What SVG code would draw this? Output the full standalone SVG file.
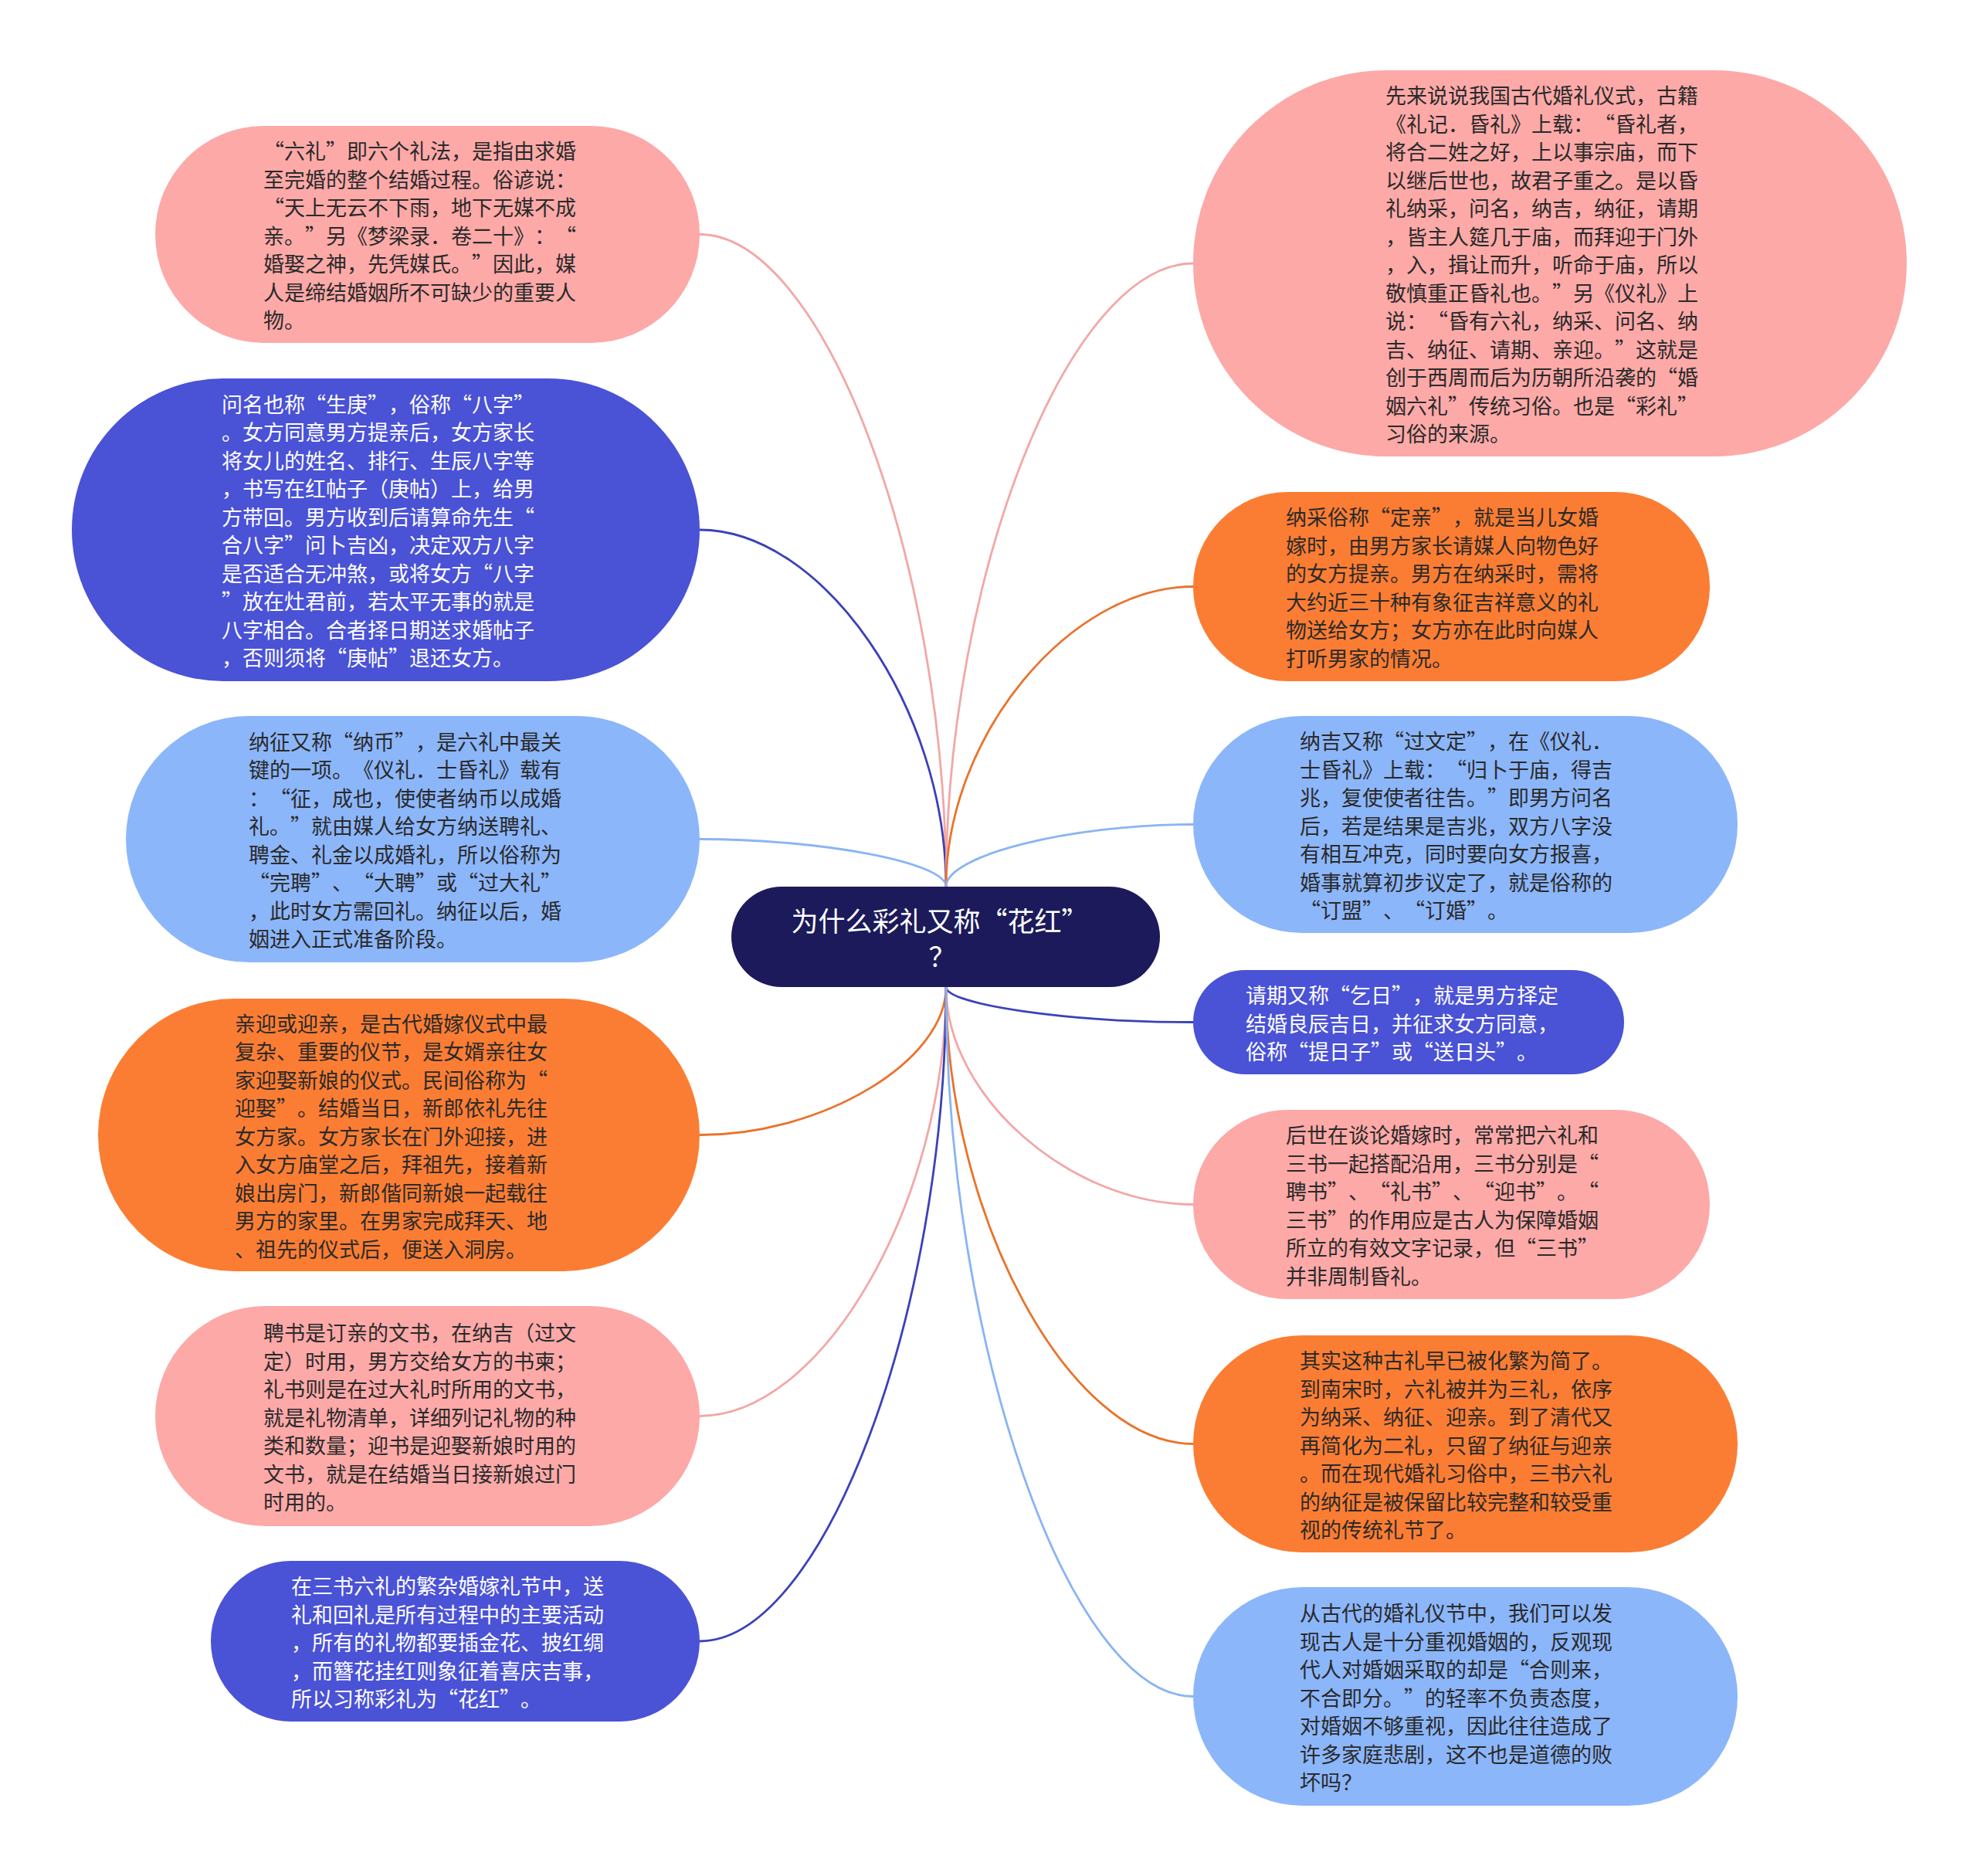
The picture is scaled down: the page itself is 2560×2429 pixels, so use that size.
<svg xmlns="http://www.w3.org/2000/svg" width="2560" height="2429" viewBox="0 0 2560 2429">
<style>
.bg{fill:#ffffff}
.pink{fill:#fca9a8}
.blue{fill:#4a52d6}
.lblue{fill:#8cb6fa}
.orange{fill:#fb7d33}
.root{fill:#1c1a5a}
text{font-family:"Noto Sans CJK SC","Liberation Sans",sans-serif;font-size:27px;dominant-baseline:central;text-spacing-trim:space-all;font-kerning:none}
.td{fill:#2a2a2a}
.tw{fill:#ffffff}
.tr{fill:#ffffff;font-size:35px;text-anchor:middle}
.c{fill:none;stroke-width:2.8}
.cp{stroke:#f2a7a6}
.cb{stroke:#3c41b8}
.cl{stroke:#8ab4f4}
.co{stroke:#e9732c}
</style>
<rect class="bg" x="0" y="0" width="2560" height="2429"/>
<g id="connectors">
<path class="c cp" d="M906,303.5 C1065.5,303.5 1225,725.75 1225,1148"/>
<path class="c cb" d="M906,686 C1065.5,686 1225,917 1225,1148"/>
<path class="c cl" d="M906,1086.5 C1065.5,1086.5 1225,1117 1225,1148"/>
<path class="c co" d="M906,1469.5 C1065.5,1469.5 1225,1373.75 1225,1278"/>
<path class="c cp" d="M906,1833.5 C1065.5,1833.5 1225,1555.75 1225,1278"/>
<path class="c cb" d="M906,2125 C1065.5,2125 1225,1701.5 1225,1278"/>
<path class="c cp" d="M1545,341 C1385,341 1225,744.5 1225,1148"/>
<path class="c co" d="M1545,759.5 C1385,759.5 1225,953.75 1225,1148"/>
<path class="c cl" d="M1545,1067.5 C1385,1067.5 1225,1107.75 1225,1148"/>
<path class="c cb" d="M1545,1323.5 C1385,1323.5 1225,1300.75 1225,1278"/>
<path class="c cp" d="M1545,1559.5 C1385,1559.5 1225,1418.75 1225,1278"/>
<path class="c co" d="M1545,1869.5 C1385,1869.5 1225,1573.75 1225,1278"/>
<path class="c cl" d="M1545,2196.5 C1385,2196.5 1225,1737.25 1225,1278"/>
</g>
<g id="root">
<rect class="root" x="947" y="1148" width="555" height="130" rx="65" ry="65"/>
<text class="tr"><tspan x="1217" y="1190">为什么彩礼又称“花红”</tspan><tspan x="1220" y="1236">？</tspan></text>
</g>
<g id="node-l1">
<rect class="pink" x="201" y="163" width="705" height="281" rx="140.5" ry="140.5"/>
<text class="td"><tspan x="341" y="194">“六礼”即六个礼法，是指由求婚</tspan><tspan x="341" dy="36.5">至完婚的整个结婚过程。俗谚说：</tspan><tspan x="341" dy="36.5">“天上无云不下雨，地下无媒不成</tspan><tspan x="341" dy="36.5">亲。”另《梦梁录．卷二十》：“</tspan><tspan x="341" dy="36.5">婚娶之神，先凭媒氏。”因此，媒</tspan><tspan x="341" dy="36.5">人是缔结婚姻所不可缺少的重要人</tspan><tspan x="341" dy="36.5">物。</tspan></text>
</g>
<g id="node-l2">
<rect class="blue" x="93" y="490" width="813" height="392" rx="196" ry="196"/>
<text class="tw"><tspan x="287" y="521.75">问名也称“生庚”，俗称“八字”</tspan><tspan x="287" dy="36.5">。女方同意男方提亲后，女方家长</tspan><tspan x="287" dy="36.5">将女儿的姓名、排行、生辰八字等</tspan><tspan x="287" dy="36.5">，书写在红帖子（庚帖）上，给男</tspan><tspan x="287" dy="36.5">方带回。男方收到后请算命先生“</tspan><tspan x="287" dy="36.5">合八字”问卜吉凶，决定双方八字</tspan><tspan x="287" dy="36.5">是否适合无冲煞，或将女方“八字</tspan><tspan x="287" dy="36.5">”放在灶君前，若太平无事的就是</tspan><tspan x="287" dy="36.5">八字相合。合者择日期送求婚帖子</tspan><tspan x="287" dy="36.5">，否则须将“庚帖”退还女方。</tspan></text>
</g>
<g id="node-l3">
<rect class="lblue" x="163" y="927" width="743" height="319" rx="159.5" ry="159.5"/>
<text class="td"><tspan x="322" y="958.75">纳征又称“纳币”，是六礼中最关</tspan><tspan x="322" dy="36.5">键的一项。《仪礼．士昏礼》载有</tspan><tspan x="322" dy="36.5">：“征，成也，使使者纳币以成婚</tspan><tspan x="322" dy="36.5">礼。”就由媒人给女方纳送聘礼、</tspan><tspan x="322" dy="36.5">聘金、礼金以成婚礼，所以俗称为</tspan><tspan x="322" dy="36.5">“完聘”、“大聘”或“过大礼”</tspan><tspan x="322" dy="36.5">，此时女方需回礼。纳征以后，婚</tspan><tspan x="322" dy="36.5">姻进入正式准备阶段。</tspan></text>
</g>
<g id="node-l4">
<rect class="orange" x="127" y="1293" width="779" height="353" rx="176.5" ry="176.5"/>
<text class="td"><tspan x="304" y="1323.5">亲迎或迎亲，是古代婚嫁仪式中最</tspan><tspan x="304" dy="36.5">复杂、重要的仪节，是女婿亲往女</tspan><tspan x="304" dy="36.5">家迎娶新娘的仪式。民间俗称为“</tspan><tspan x="304" dy="36.5">迎娶”。结婚当日，新郎依礼先往</tspan><tspan x="304" dy="36.5">女方家。女方家长在门外迎接，进</tspan><tspan x="304" dy="36.5">入女方庙堂之后，拜祖先，接着新</tspan><tspan x="304" dy="36.5">娘出房门，新郎偕同新娘一起载往</tspan><tspan x="304" dy="36.5">男方的家里。在男家完成拜天、地</tspan><tspan x="304" dy="36.5">、祖先的仪式后，便送入洞房。</tspan></text>
</g>
<g id="node-l5">
<rect class="pink" x="201" y="1691" width="705" height="285" rx="142.5" ry="142.5"/>
<text class="td"><tspan x="341" y="1724">聘书是订亲的文书，在纳吉（过文</tspan><tspan x="341" dy="36.5">定）时用，男方交给女方的书柬；</tspan><tspan x="341" dy="36.5">礼书则是在过大礼时所用的文书，</tspan><tspan x="341" dy="36.5">就是礼物清单，详细列记礼物的种</tspan><tspan x="341" dy="36.5">类和数量；迎书是迎娶新娘时用的</tspan><tspan x="341" dy="36.5">文书，就是在结婚当日接新娘过门</tspan><tspan x="341" dy="36.5">时用的。</tspan></text>
</g>
<g id="node-l6">
<rect class="blue" x="273" y="2021" width="633" height="208" rx="104" ry="104"/>
<text class="tw"><tspan x="377" y="2052">在三书六礼的繁杂婚嫁礼节中，送</tspan><tspan x="377" dy="36.5">礼和回礼是所有过程中的主要活动</tspan><tspan x="377" dy="36.5">，所有的礼物都要插金花、披红绸</tspan><tspan x="377" dy="36.5">，而簪花挂红则象征着喜庆吉事，</tspan><tspan x="377" dy="36.5">所以习称彩礼为“花红”。</tspan></text>
</g>
<g id="node-r1">
<rect class="pink" x="1545" y="91" width="924" height="500" rx="250" ry="250"/>
<text class="td"><tspan x="1794" y="122">先来说说我国古代婚礼仪式，古籍</tspan><tspan x="1794" dy="36.5">《礼记．昏礼》上载：“昏礼者，</tspan><tspan x="1794" dy="36.5">将合二姓之好，上以事宗庙，而下</tspan><tspan x="1794" dy="36.5">以继后世也，故君子重之。是以昏</tspan><tspan x="1794" dy="36.5">礼纳采，问名，纳吉，纳征，请期</tspan><tspan x="1794" dy="36.5">，皆主人筵几于庙，而拜迎于门外</tspan><tspan x="1794" dy="36.5">，入，揖让而升，听命于庙，所以</tspan><tspan x="1794" dy="36.5">敬慎重正昏礼也。”另《仪礼》上</tspan><tspan x="1794" dy="36.5">说：“昏有六礼，纳采、问名、纳</tspan><tspan x="1794" dy="36.5">吉、纳征、请期、亲迎。”这就是</tspan><tspan x="1794" dy="36.5">创于西周而后为历朝所沿袭的“婚</tspan><tspan x="1794" dy="36.5">姻六礼”传统习俗。也是“彩礼”</tspan><tspan x="1794" dy="36.5">习俗的来源。</tspan></text>
</g>
<g id="node-r2">
<rect class="orange" x="1545" y="637" width="669" height="245" rx="122.5" ry="122.5"/>
<text class="td"><tspan x="1665" y="668.25">纳采俗称“定亲”，就是当儿女婚</tspan><tspan x="1665" dy="36.5">嫁时，由男方家长请媒人向物色好</tspan><tspan x="1665" dy="36.5">的女方提亲。男方在纳采时，需将</tspan><tspan x="1665" dy="36.5">大约近三十种有象征吉祥意义的礼</tspan><tspan x="1665" dy="36.5">物送给女方；女方亦在此时向媒人</tspan><tspan x="1665" dy="36.5">打听男家的情况。</tspan></text>
</g>
<g id="node-r3">
<rect class="lblue" x="1545" y="927" width="705" height="281" rx="140.5" ry="140.5"/>
<text class="td"><tspan x="1683" y="958">纳吉又称“过文定”，在《仪礼．</tspan><tspan x="1683" dy="36.5">士昏礼》上载：“归卜于庙，得吉</tspan><tspan x="1683" dy="36.5">兆，复使使者往告。”即男方问名</tspan><tspan x="1683" dy="36.5">后，若是结果是吉兆，双方八字没</tspan><tspan x="1683" dy="36.5">有相互冲克，同时要向女方报喜，</tspan><tspan x="1683" dy="36.5">婚事就算初步议定了，就是俗称的</tspan><tspan x="1683" dy="36.5">“订盟”、“订婚”。</tspan></text>
</g>
<g id="node-r4">
<rect class="blue" x="1545" y="1256" width="558" height="135" rx="67.5" ry="67.5"/>
<text class="tw"><tspan x="1613" y="1287">请期又称“乞日”，就是男方择定</tspan><tspan x="1613" dy="36.5">结婚良辰吉日，并征求女方同意，</tspan><tspan x="1613" dy="36.5">俗称“提日子”或“送日头”。</tspan></text>
</g>
<g id="node-r5">
<rect class="pink" x="1545" y="1437" width="669" height="245" rx="122.5" ry="122.5"/>
<text class="td"><tspan x="1665" y="1468.25">后世在谈论婚嫁时，常常把六礼和</tspan><tspan x="1665" dy="36.5">三书一起搭配沿用，三书分别是“</tspan><tspan x="1665" dy="36.5">聘书”、“礼书”、“迎书”。“</tspan><tspan x="1665" dy="36.5">三书”的作用应是古人为保障婚姻</tspan><tspan x="1665" dy="36.5">所立的有效文字记录，但“三书”</tspan><tspan x="1665" dy="36.5">并非周制昏礼。</tspan></text>
</g>
<g id="node-r6">
<rect class="orange" x="1545" y="1729" width="705" height="281" rx="140.5" ry="140.5"/>
<text class="td"><tspan x="1683" y="1760">其实这种古礼早已被化繁为简了。</tspan><tspan x="1683" dy="36.5">到南宋时，六礼被并为三礼，依序</tspan><tspan x="1683" dy="36.5">为纳采、纳征、迎亲。到了清代又</tspan><tspan x="1683" dy="36.5">再简化为二礼，只留了纳征与迎亲</tspan><tspan x="1683" dy="36.5">。而在现代婚礼习俗中，三书六礼</tspan><tspan x="1683" dy="36.5">的纳征是被保留比较完整和较受重</tspan><tspan x="1683" dy="36.5">视的传统礼节了。</tspan></text>
</g>
<g id="node-r7">
<rect class="lblue" x="1545" y="2055" width="705" height="283" rx="141.5" ry="141.5"/>
<text class="td"><tspan x="1683" y="2087">从古代的婚礼仪节中，我们可以发</tspan><tspan x="1683" dy="36.5">现古人是十分重视婚姻的，反观现</tspan><tspan x="1683" dy="36.5">代人对婚姻采取的却是“合则来，</tspan><tspan x="1683" dy="36.5">不合即分。”的轻率不负责态度，</tspan><tspan x="1683" dy="36.5">对婚姻不够重视，因此往往造成了</tspan><tspan x="1683" dy="36.5">许多家庭悲剧，这不也是道德的败</tspan><tspan x="1683" dy="36.5">坏吗？</tspan></text>
</g>
</svg>
